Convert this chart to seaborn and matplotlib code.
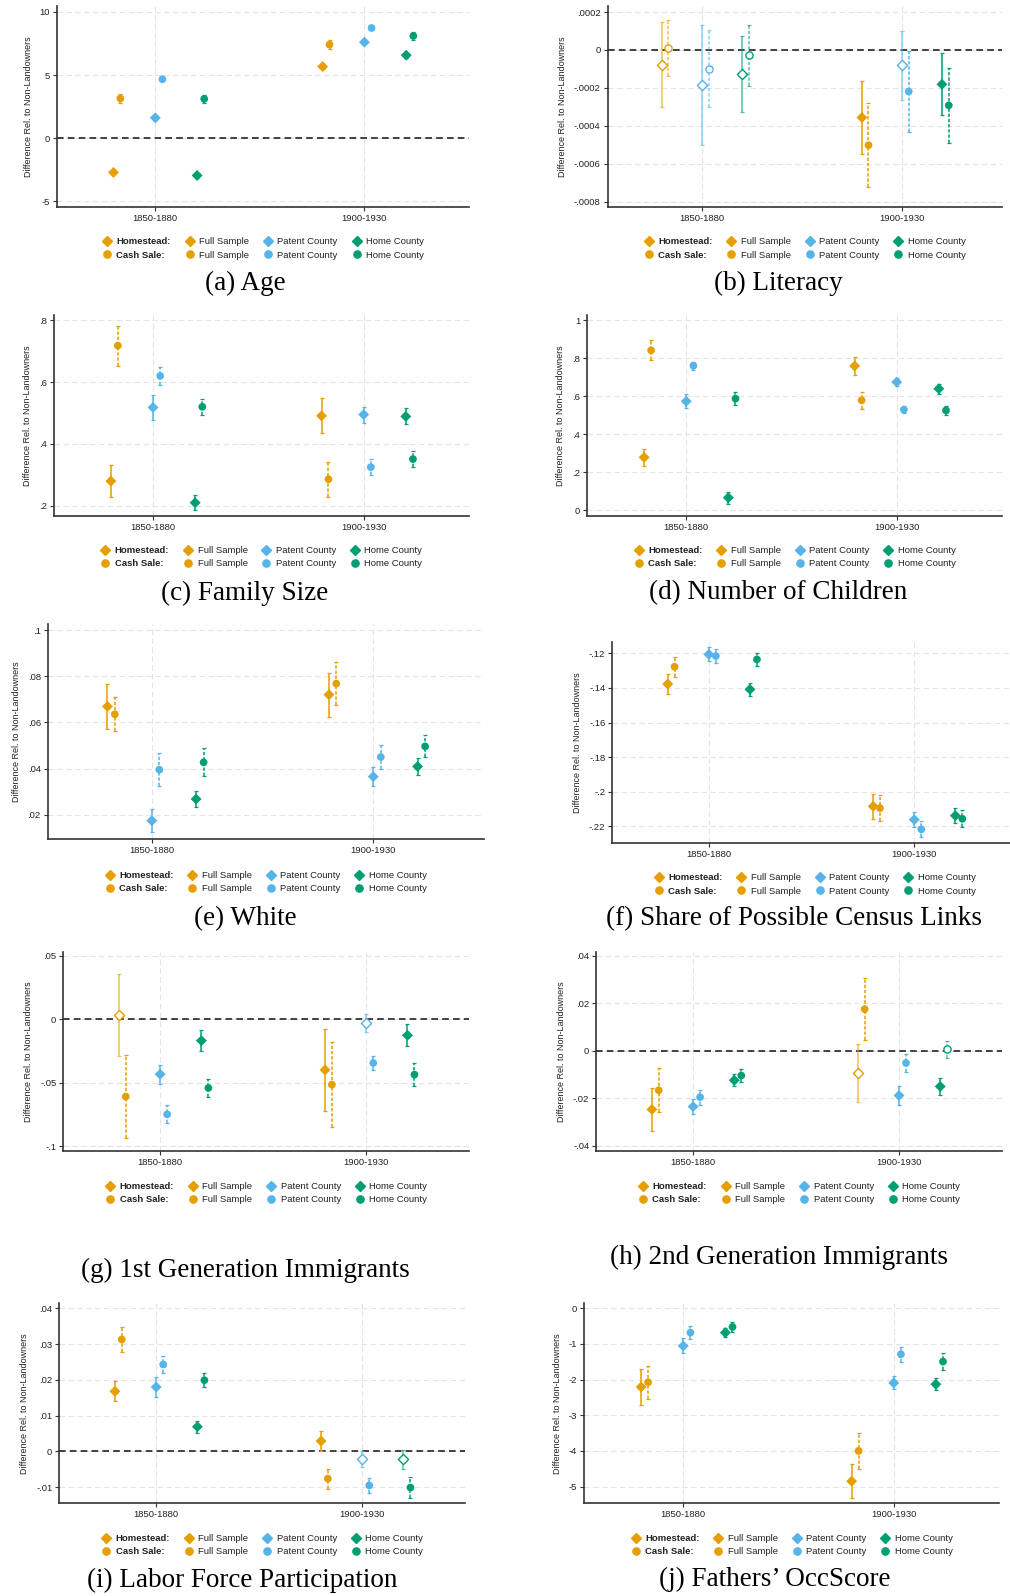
import numpy as np
import pandas as pd
import matplotlib
matplotlib.use("Agg")
import matplotlib.pyplot as plt
import seaborn as sns
from matplotlib.lines import Line2D

# ---------------- data ----------------
periods = ["1850-1880", "1900-1930"]
samples = ["Full Sample", "Patent County", "Home County"]
types = ["Homestead", "Cash Sale"]
# value order: Full, Patent, Home (1850-1880), then Full, Patent, Home (1900-1930)

age_hs = [-2.72, 1.61, -2.96, 5.67, 7.60, 6.57]
age_hs_ci = [0.20, 0.15, 0.20, 0.20, 0.15, 0.20]
age_cs = [3.14, 4.67, 3.11, 7.41, 8.73, 8.10]
age_cs_ci = [0.35, 0.15, 0.30, 0.35, 0.15, 0.30]
age_yticks = [-5, 0, 5, 10]

lit_hs = [-0.0000775, -0.0001845, -0.000125, -0.000356, -0.0000815, -0.000181]
lit_hs_ci = [0.0002245, 0.0003175, 0.000200, 0.000190, 0.0001835, 0.000163]
lit_cs = [0.0000085, -0.000098, -0.000029, -0.000502, -0.000219, -0.000292]
lit_cs_ci = [0.0001475, 0.000202, 0.000159, 0.000221, 0.000212, 0.000196]
lit_yticks = [-0.0008, -0.0006, -0.0004, -0.0002, 0, 0.0002]

fam_hs = [0.280, 0.518, 0.210, 0.491, 0.495, 0.489]
fam_hs_ci = [0.053, 0.039, 0.025, 0.057, 0.026, 0.026]
fam_cs = [0.718, 0.620, 0.520, 0.286, 0.325, 0.351]
fam_cs_ci = [0.065, 0.028, 0.025, 0.056, 0.026, 0.027]
fam_yticks = [0.2, 0.4, 0.6, 0.8]

kid_hs = [0.279, 0.574, 0.067, 0.760, 0.675, 0.640]
kid_hs_ci = [0.044, 0.036, 0.031, 0.046, 0.021, 0.027]
kid_cs = [0.842, 0.761, 0.588, 0.579, 0.530, 0.526]
kid_cs_ci = [0.052, 0.022, 0.034, 0.043, 0.019, 0.025]
kid_yticks = [0, 0.2, 0.4, 0.6, 0.8, 1]

wht_hs = [0.0669, 0.0174, 0.0268, 0.0720, 0.0365, 0.0409]
wht_hs_ci = [0.0098, 0.0050, 0.0033, 0.0096, 0.0041, 0.0037]
wht_cs = [0.0635, 0.0395, 0.0427, 0.0768, 0.0450, 0.0496]
wht_cs_ci = [0.0073, 0.0071, 0.0060, 0.0092, 0.0052, 0.0048]
wht_yticks = [0.02, 0.04, 0.06, 0.08, 0.1]

lnk_hs = [-0.1377, -0.1206, -0.1408, -0.2084, -0.2161, -0.2138]
lnk_hs_ci = [0.0056, 0.0040, 0.0039, 0.0074, 0.0044, 0.0044]
lnk_cs = [-0.1277, -0.1215, -0.1235, -0.2094, -0.2217, -0.2156]
lnk_cs_ci = [0.0057, 0.0043, 0.0038, 0.0073, 0.0047, 0.0049]
lnk_yticks = [-0.22, -0.2, -0.18, -0.16, -0.14, -0.12]

im1_hs = [0.0037, -0.0433, -0.0168, -0.0399, -0.0026, -0.0126]
im1_hs_ci = [0.0323, 0.0074, 0.0084, 0.0323, 0.0071, 0.0087]
im1_cs = [-0.0609, -0.0749, -0.0541, -0.0515, -0.0344, -0.0436]
im1_cs_ci = [0.0325, 0.0070, 0.0074, 0.0334, 0.0057, 0.0088]
im1_yticks = [-0.1, -0.05, 0, 0.05]

im2_hs = [-0.0247, -0.0235, -0.0124, -0.0093, -0.0188, -0.0150]
im2_hs_ci = [0.0090, 0.0032, 0.0026, 0.0124, 0.0039, 0.0034]
im2_cs = [-0.0166, -0.0195, -0.0104, 0.0176, -0.0051, 0.0007]
im2_cs_ci = [0.0092, 0.0032, 0.0026, 0.0130, 0.0037, 0.0036]
im2_yticks = [-0.04, -0.02, 0, 0.02, 0.04]

lfp_hs = [0.0168, 0.0180, 0.0069, 0.0029, -0.0021, -0.0022]
lfp_hs_ci = [0.0028, 0.0028, 0.0017, 0.0028, 0.0022, 0.0026]
lfp_cs = [0.0313, 0.0243, 0.0199, -0.0076, -0.0095, -0.0101]
lfp_cs_ci = [0.0036, 0.0023, 0.0019, 0.0028, 0.0020, 0.0030]
lfp_yticks = [-0.01, 0, 0.01, 0.02, 0.03, 0.04]

occ_hs = [-2.206, -1.056, -0.682, -4.85, -2.093, -2.13]
occ_hs_ci = [0.50, 0.21, 0.13, 0.47, 0.18, 0.17]
occ_cs = [-2.075, -0.682, -0.523, -4.00, -1.29, -1.495]
occ_cs_ci = [0.47, 0.18, 0.15, 0.50, 0.21, 0.23]
occ_yticks = [-5, -4, -3, -2, -1, 0]

captions = ["(a) Age", "(b) Literacy", "(c) Family Size", "(d) Number of Children",
            "(e) White", "(f) Share of Possible Census Links",
            "(g) 1st Generation Immigrants", "(h) 2nd Generation Immigrants",
            "(i) Labor Force Participation", "(j) Fathers\u2019 OccScore"]
ylabel = "Difference Rel. to Non-Landowners"

panel_data = [
    (age_hs, age_hs_ci, age_cs, age_cs_ci, age_yticks),
    (lit_hs, lit_hs_ci, lit_cs, lit_cs_ci, lit_yticks),
    (fam_hs, fam_hs_ci, fam_cs, fam_cs_ci, fam_yticks),
    (kid_hs, kid_hs_ci, kid_cs, kid_cs_ci, kid_yticks),
    (wht_hs, wht_hs_ci, wht_cs, wht_cs_ci, wht_yticks),
    (lnk_hs, lnk_hs_ci, lnk_cs, lnk_cs_ci, lnk_yticks),
    (im1_hs, im1_hs_ci, im1_cs, im1_cs_ci, im1_yticks),
    (im2_hs, im2_hs_ci, im2_cs, im2_cs_ci, im2_yticks),
    (lfp_hs, lfp_hs_ci, lfp_cs, lfp_cs_ci, lfp_yticks),
    (occ_hs, occ_hs_ci, occ_cs, occ_cs_ci, occ_yticks),
]

# ---------------- layout (pixels) ----------------
W, H = 1010, 1596
# left, right, top, bottom, ylim, legend-center-y, caption (x, y)
layout = [
    (57, 469, 6, 207, (-5.46, 10.47), 248.5, (245, 283)),
    (607.7, 1002, 6, 207, (-0.000828, 0.000232), 248.5, (778, 283)),
    (54, 469, 315, 515.7, (0.168, 0.817), 557, (245, 593)),
    (587.3, 1002, 315, 515.7, (-0.028, 1.028), 557, (778, 593)),
    (47.7, 484, 624.3, 838.7, (0.0096, 0.1025), 882, (245, 919)),
    (612.3, 1017, 642.3, 843, (-0.2296, -0.1136), 884.5, (794, 919)),
    (63.3, 469.3, 951.7, 1151, (-0.1038, 0.0533), 1193, (245, 1270)),
    (596.3, 1002, 951.7, 1151, (-0.0422, 0.0418), 1193, (779, 1257)),
    (59.3, 465.3, 1303.3, 1503.3, (-0.0145, 0.0414), 1545, (242, 1580)),
    (584.3, 999, 1303.3, 1503.3, (-5.47, 0.14), 1545, (775, 1579)),
]

colors = {"Full Sample": "#E69F00", "Patent County": "#56B4E9", "Home County": "#009E73"}
markers = {"Homestead": "D", "Cash Sale": "o"}
dodge = {("Full Sample", "Homestead"): -0.2, ("Full Sample", "Cash Sale"): -0.167,
         ("Patent County", "Homestead"): 0.0, ("Patent County", "Cash Sale"): 0.034,
         ("Home County", "Homestead"): 0.2, ("Home County", "Cash Sale"): 0.234}

sns.set_theme(style="ticks")
plt.rcParams["font.family"] = ["Liberation Sans", "DejaVu Sans"]

fig = plt.figure(figsize=(W / 100, H / 100), dpi=100)


def stata_fmt(v):
    s = f"{round(v, 6):g}"
    s = s.replace("0.", ".")
    return s


for pi, (hs, hs_ci, cs, cs_ci, yt) in enumerate(panel_data):
    l, r, t, b, ylim, legy, (cx, cy) = layout[pi]
    ax = fig.add_axes([l / W, 1 - b / H, (r - l) / W, (b - t) / H])

    rows = []
    for typ, est, ci in (("Homestead", hs, hs_ci), ("Cash Sale", cs, cs_ci)):
        for k in range(6):
            period = k // 3 + 1
            smp = samples[k % 3]
            rows.append(dict(type=typ, sample=smp, period=period,
                             x=period + dodge[(smp, typ)], est=est[k], ci=ci[k]))
    df = pd.DataFrame(rows)
    df["lo"] = df["est"] - df["ci"]
    df["hi"] = df["est"] + df["ci"]
    df["filled"] = ~((df["lo"] <= 0) & (df["hi"] >= 0))

    # grid
    for v in yt:
        ax.axhline(v, color="#e4e4e4", lw=0.8, ls=(0, (5, 3)), zorder=0)
    for p in (1, 2):
        ax.axvline(p, color="#e4e4e4", lw=0.8, ls=(0, (5, 3)), zorder=0)

    if df["est"].min() < 0 < df["est"].max():
        ax.axhline(0, color="#222222", lw=1.2, ls=(0, (4, 2.5)), zorder=1)

    # error bars
    for _, rw in df.iterrows():
        eb = ax.errorbar(rw["x"], rw["est"], yerr=rw["ci"], fmt="none",
                         ecolor=colors[rw["sample"]], elinewidth=1.1, capsize=1.6,
                         capthick=0.9, alpha=1.0 if rw["filled"] else 0.65, zorder=2)
        if rw["type"] == "Cash Sale":
            for lc in eb[2]:
                lc.set_linestyle((0, (2.2, 1.2)))

    filled = df[df["filled"]]
    sns.scatterplot(data=filled, x="x", y="est", hue="sample", style="type",
                    palette=colors, markers=markers, s=31, linewidth=0,
                    legend=False, ax=ax, zorder=3)
    hollow = df[~df["filled"]]
    for _, rw in hollow.iterrows():
        ax.scatter(rw["x"], rw["est"], marker=markers[rw["type"]], s=27,
                   facecolors="white", edgecolors=colors[rw["sample"]],
                   linewidths=1.0, zorder=3)

    ax.set_xlim(0.53, 2.5)
    ax.set_ylim(*ylim)
    ax.set_xticks([1, 2])
    ax.set_xticklabels(periods)
    ax.set_yticks(yt)
    ax.set_yticklabels([stata_fmt(v) for v in yt])
    ax.set_xlabel("")
    ax.set_ylabel(ylabel, fontsize=6.5, labelpad=5, color="#222222")
    ax.tick_params(axis="both", direction="out", length=3, width=0.8,
                   labelsize=6.8, color="#333333", labelcolor="#222222", pad=2)
    for sp in ("top", "right"):
        ax.spines[sp].set_visible(False)
    for sp in ("left", "bottom"):
        ax.spines[sp].set_color("#333333")
        ax.spines[sp].set_linewidth(1.2)

    # legend
    handles = [
        Line2D([], [], marker="D", color=colors["Full Sample"], ls="none", ms=5.4),
        Line2D([], [], marker="o", color=colors["Full Sample"], ls="none", ms=5.2),
    ]
    labels = ["Homestead:", "Cash Sale:"]
    for smp in samples:
        handles.append(Line2D([], [], marker="D", color=colors[smp], ls="none", ms=5.4))
        handles.append(Line2D([], [], marker="o", color=colors[smp], ls="none", ms=5.2))
        labels += [smp, smp]
    leg = fig.legend(handles, labels, loc="center", ncol=4, frameon=False,
                     bbox_to_anchor=((l + r) / 2 / W, 1 - legy / H),
                     bbox_transform=fig.transFigure, fontsize=6.8,
                     handlelength=1.0, handletextpad=0.5, columnspacing=1.5,
                     labelspacing=0.45, borderpad=0.2)
    for i, txt in enumerate(leg.get_texts()):
        txt.set_color("#222222")
        if i < 2:
            txt.set_fontweight("bold")

    fig.text(cx / W, 1 - cy / H, captions[pi], ha="center", va="center",
             family=["Liberation Serif", "DejaVu Serif"], fontsize=19.5, color="black")

fig.savefig("out.png", dpi=100)
